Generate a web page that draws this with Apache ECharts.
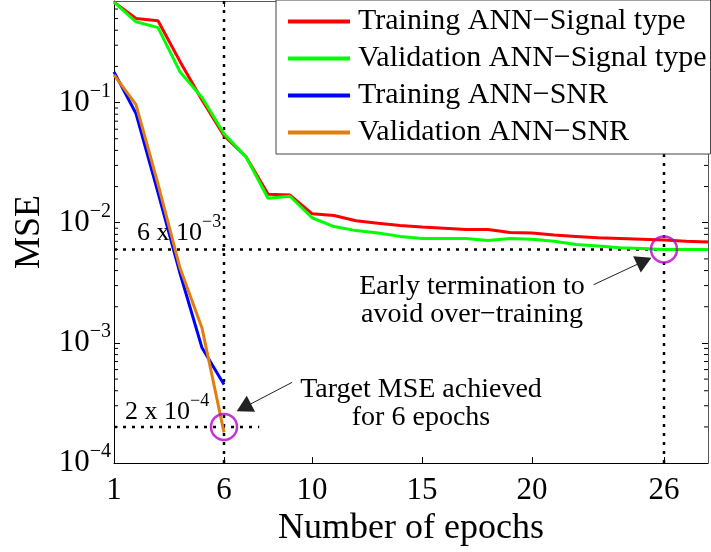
<!DOCTYPE html>
<html>
<head>
<meta charset="utf-8">
<script src="https://cdn.jsdelivr.net/npm/echarts@6/dist/echarts.min.js"></script>
<style>
  html, body { margin: 0; padding: 0; background: #fff; }
  #chart { width: 711px; height: 552px; }
</style>
</head>
<body>
<div id="chart"></div>
<script>
// epochs on the x axis
var epochs = [1, 2, 3, 4, 5, 6, 7, 8, 9, 10, 11, 12, 13, 14, 15, 16, 17, 18, 19, 20, 21, 22, 23, 24, 25, 26, 27, 28];
var snrEpochs = [1, 2, 3, 4, 5, 6];

// MSE values
var trainSignal = [0.685, 0.50, 0.48, 0.22, 0.105, 0.053, 0.0354, 0.0173, 0.0170, 0.0119, 0.0115, 0.0104, 0.0099, 0.0095, 0.0092, 0.0090, 0.0088, 0.0088, 0.0083, 0.0082, 0.0079, 0.0077, 0.0075, 0.0074, 0.0073, 0.0072, 0.0070, 0.0069];
var validSignal = [0.685, 0.47, 0.42, 0.18, 0.11, 0.055, 0.0354, 0.0160, 0.0166, 0.0110, 0.0093, 0.0086, 0.0082, 0.0077, 0.0074, 0.0074, 0.0074, 0.0071, 0.0074, 0.0073, 0.0070, 0.0066, 0.0064, 0.0062, 0.0061, 0.0060, 0.0060, 0.0060];
var trainSnr = [0.18, 0.081, 0.0178, 0.0038, 0.00091, 0.00045];
var validSnr = [0.17, 0.096, 0.021, 0.0042, 0.00133, 0.00018];

var seriesNames = ['Training ANN\u2212Signal type', 'Validation ANN\u2212Signal type', 'Training ANN\u2212SNR', 'Validation ANN\u2212SNR'];
var xTicks = [1, 6, 10, 15, 20, 26];
var decades = [1e-4, 1e-3, 1e-2, 1e-1];
var minorSteps = [2, 3, 4, 5, 6, 7, 8, 9];

// marked points: target reached and early stop
var markedPoints = [[6, 2e-4], [26, 6e-3]];

var FONT = "'Liberation Serif', 'Times New Roman', serif";

function zip(xs, ys) {
    return ys.map(function (y, i) { return [xs[i], y]; });
}

var minorTicks = [];
decades.forEach(function (d) {
    minorSteps.forEach(function (m) {
        if (d * m < 0.7) minorTicks.push([1, d * m]);
    });
});

function lineSeries(name, xs, ys, color) {
    return {
        name: name,
        type: 'line',
        data: zip(xs, ys),
        symbol: 'none',
        lineStyle: {color: color, width: 3},
        itemStyle: {color: color},
        z: 3
    };
}

function guide(points) {
    return {
        type: 'line',
        data: points,
        symbol: 'none',
        silent: true,
        lineStyle: {color: '#000', width: 2.5, type: [3, 6]},
        z: 2
    };
}

var arrowStyle = {color: '#222', width: 1, type: 'solid'};

var chart = echarts.init(document.getElementById('chart'));
var option = {
    animation: false,
    backgroundColor: '#fff',
    grid: {left: 114, right: 3, top: 1, bottom: 82},
    legend: {
        data: seriesNames,
        orient: 'vertical',
        left: 276,
        top: 0,
        icon: 'rect',
        itemWidth: 62,
        itemHeight: 4,
        itemGap: 6,
        padding: [6, 4, 6, 12],
        backgroundColor: '#fff',
        borderColor: '#444',
        borderWidth: 1,
        textStyle: {fontFamily: FONT, fontSize: 30, color: '#000', lineHeight: 31, padding: [0, 0, 0, 3]}
    },
    xAxis: [{
        type: 'value',
        min: 1,
        max: 28,
        position: 'bottom',
        axisLine: {show: true, onZero: false, lineStyle: {color: '#000', width: 1}},
        axisTick: {show: true, inside: true, length: 6, customValues: xTicks, lineStyle: {color: '#000'}},
        axisLabel: {customValues: xTicks, fontFamily: FONT, fontSize: 31, color: '#000', margin: 12},
        splitLine: {show: false},
        name: 'Number of epochs',
        nameLocation: 'middle',
        nameGap: 46,
        nameTextStyle: {fontFamily: FONT, fontSize: 36, color: '#000'}
    }, {
        type: 'value',
        min: 1,
        max: 28,
        position: 'top',
        axisLine: {show: true, onZero: false, lineStyle: {color: '#555', width: 1}},
        axisTick: {show: true, inside: true, length: 6, customValues: xTicks, lineStyle: {color: '#000'}},
        axisLabel: {show: false},
        splitLine: {show: false}
    }],
    yAxis: [{
        type: 'log',
        logBase: 10,
        min: 1e-4,
        max: 0.7,
        axisLine: {show: true, lineStyle: {color: '#000', width: 1}},
        axisTick: {show: true, inside: true, length: 6, lineStyle: {color: '#000'}},
        axisLabel: {
            margin: 3,
            showMaxLabel: false,
            formatter: function (v) {
                var e = Math.log(v) / Math.LN10;
                var r = Math.round(e);
                if (Math.abs(e - r) > 1e-6) return '';
                return '{b|10}{s|\u2212' + (-r) + '}';
            },
            rich: {
                b: {fontFamily: FONT, fontSize: 31, color: '#000'},
                s: {fontFamily: FONT, fontSize: 20, color: '#000', padding: [0, 0, 22, 0]}
            }
        },
        splitLine: {show: false},
        name: 'MSE',
        nameLocation: 'middle',
        nameGap: 66,
        nameTextStyle: {fontFamily: FONT, fontSize: 36, color: '#000'}
    }, {
        type: 'log',
        logBase: 10,
        min: 1e-4,
        max: 0.7,
        position: 'right',
        axisLine: {show: true, lineStyle: {color: '#555', width: 1}},
        axisTick: {show: true, inside: true, length: 6, lineStyle: {color: '#000'}},
        axisLabel: {show: false},
        splitLine: {show: false}
    }],
    graphic: [{
        type: 'text', x: 137, y: 233,
        style: {
            text: '{a|6 x 10}{b|\u22123}', textAlign: 'left', textVerticalAlign: 'middle',
            rich: {
                a: {fontFamily: FONT, fontSize: 26, fill: '#000'},
                b: {fontFamily: FONT, fontSize: 18, fill: '#000', padding: [0, 0, 22, 0]}
            }
        }
    }, {
        type: 'text', x: 125, y: 412,
        style: {
            text: '{a|2 x 10}{b|\u22124}', textAlign: 'left', textVerticalAlign: 'middle',
            rich: {
                a: {fontFamily: FONT, fontSize: 26, fill: '#000'},
                b: {fontFamily: FONT, fontSize: 18, fill: '#000', padding: [0, 0, 22, 0]}
            }
        }
    }, {
        type: 'text', x: 472, y: 301,
        style: {
            text: 'Early termination to\navoid over\u2212training', textAlign: 'center', textVerticalAlign: 'middle',
            font: '28px ' + FONT, lineHeight: 28, fill: '#000'
        }
    }, {
        type: 'text', x: 421, y: 404,
        style: {
            text: 'Target MSE achieved\nfor 6 epochs', textAlign: 'center', textVerticalAlign: 'middle',
            font: '28px ' + FONT, lineHeight: 28, fill: '#000'
        }
    }],
    series: [
        guide([[6, 1e-4], [6, 0.7]]),
        guide([[26, 1e-4], [26, 0.7]]),
        guide([[1, 6e-3], [28, 6e-3]]),
        guide([[1, 2e-4], [7.6, 2e-4]]),
        lineSeries(seriesNames[0], epochs, trainSignal, '#ff0000'),
        lineSeries(seriesNames[1], epochs, validSignal, '#00ff00'),
        lineSeries(seriesNames[2], snrEpochs, trainSnr, '#0000ff'),
        lineSeries(seriesNames[3], snrEpochs, validSnr, '#e07f10'),
        {
            type: 'scatter',
            data: markedPoints,
            symbol: 'circle',
            symbolSize: 26,
            silent: true,
            itemStyle: {color: 'rgba(0,0,0,0)', borderColor: '#b800c8', borderWidth: 2.5},
            z: 5,
            markLine: {
                silent: true,
                symbol: ['none', 'triangle'],
                symbolSize: [18, 16],
                label: {show: false},
                lineStyle: arrowStyle,
                data: [
                    [{coord: [9.1, 4.7e-4]}, {coord: [6.9, 2.9e-4]}],
                    [{coord: [22.8, 3.05e-3]}, {coord: [25.1, 4.8e-3]}]
                ]
            }
        },
        {
            type: 'custom',
            data: minorTicks,
            silent: true,
            clip: false,
            encode: {x: 0, y: 1},
            renderItem: function (params, api) {
                var y = api.coord([1, api.value(1)])[1];
                var cs = params.coordSys;
                return {
                    type: 'group',
                    children: [
                        {type: 'line', shape: {x1: cs.x, y1: y, x2: cs.x + 4, y2: y}, style: {stroke: '#000', lineWidth: 1}},
                        {type: 'line', shape: {x1: cs.x + cs.width, y1: y, x2: cs.x + cs.width - 4, y2: y}, style: {stroke: '#000', lineWidth: 1}}
                    ]
                };
            }
        }
    ]
};
chart.setOption(option);
</script>
</body>
</html>
